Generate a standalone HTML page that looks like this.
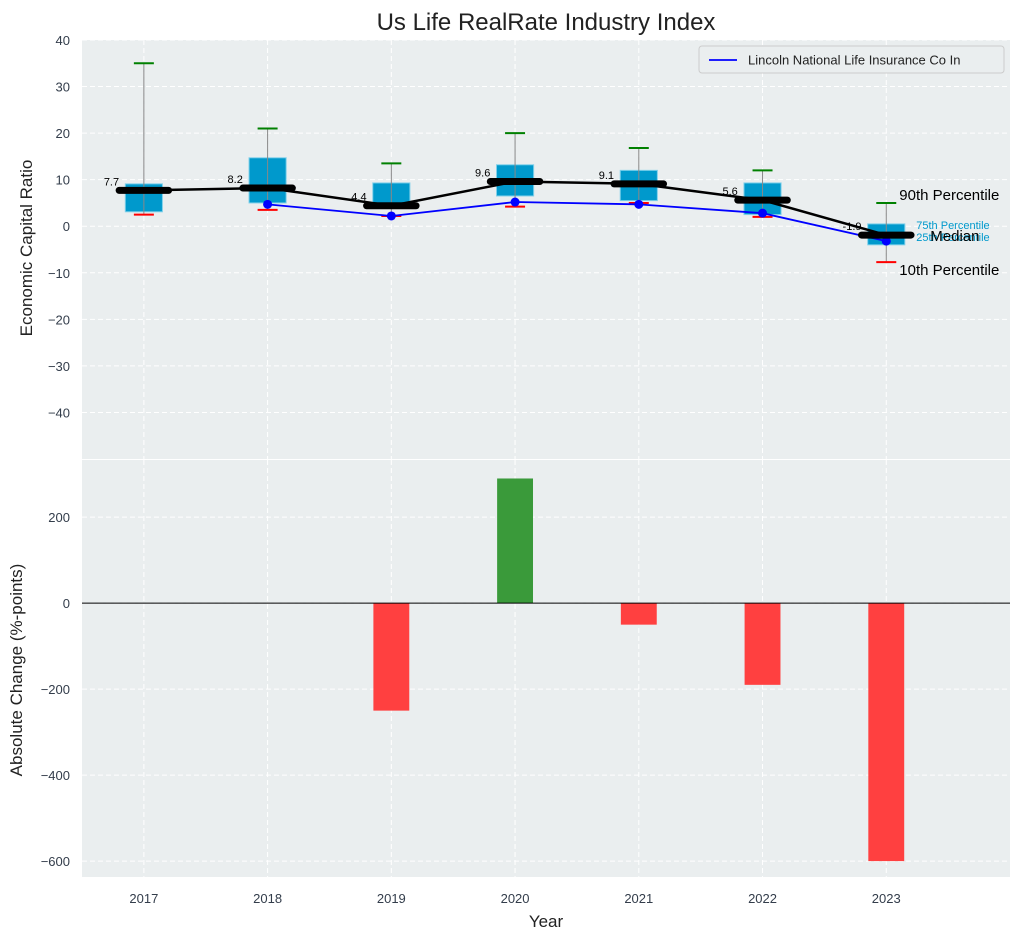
<!DOCTYPE html>
<html><head><meta charset="utf-8"><style>
body{margin:0;background:#fff;font-family:"Liberation Sans","DejaVu Sans",sans-serif}
</style></head><body>
<svg id="c" width="1021" height="940" xmlns="http://www.w3.org/2000/svg" font-family="Liberation Sans, DejaVu Sans, sans-serif"></svg>
<script>
const years=[2017,2018,2019,2020,2021,2022,2023];
const p10=[2.5,3.5,2.2,4.2,5,2,-7.7];
const p25=[3.1,5,4,6.5,5.5,2.5,-4];
const medians=[7.7,8.2,4.4,9.6,9.1,5.6,-1.9];
const p75=[9.1,14.7,9.3,13.2,12,9.3,0.5];
const p90=[35,21,13.5,20,16.8,12,5];
const lincoln=[null,4.7,2.2,5.2,4.7,2.8,-3.2];
const changes=[0,0,-250,290,-50,-190,-600];
const topTicks=[40,30,20,10,0,-10,-20,-30,-40];
const botTicks=[200,0,-200,-400,-600];

const svg=document.getElementById('c');const NS='http://www.w3.org/2000/svg';
function el(t,a,txt){const e=document.createElementNS(NS,t);for(const k in a)e.setAttribute(k,a[k]);if(txt!==undefined)e.textContent=txt;svg.appendChild(e);return e;}
const X0=82,X1=1010;
const x=v=>X0+(v-2016.5)/(2024-2016.5)*(X1-X0);
const T0=40,T1=459; const yT=v=>T0+(40-v)/(40+50)*(T1-T0);
const B0=460,B1=877; const yB=v=>B0+(333-v)/(333+637)*(B1-B0);

let e;
e=el('rect',{x:X0,y:T0,width:X1-X0,height:T1-T0,fill:'#eaeeef'});

e=el('rect',{x:X0,y:B0,width:X1-X0,height:B1-B0,fill:'#eaeeef'});

years.forEach(v=>{
 el('line',{x1:x(v),x2:x(v),y1:T0,y2:T1,stroke:'#fff','stroke-dasharray':'5,3'});
 el('line',{x1:x(v),x2:x(v),y1:B0,y2:B1,stroke:'#fff','stroke-dasharray':'5,3'});
 e=el('text',{x:x(v),y:903,'text-anchor':'middle','font-size':13,fill:'#333d4b'},v);
 
});
topTicks.forEach(v=>{
 el('line',{x1:X0,x2:X1,y1:yT(v),y2:yT(v),stroke:'#fff','stroke-dasharray':'5,3'});
 e=el('text',{x:70,y:yT(v)+5,'text-anchor':'end','font-size':13,fill:'#333d4b'},v<0?'\u2212'+(-v):v);
 
});
botTicks.forEach(v=>{
 el('line',{x1:X0,x2:X1,y1:yB(v),y2:yB(v),stroke:'#fff','stroke-dasharray':'5,3'});
 e=el('text',{x:70,y:yB(v)+5,'text-anchor':'end','font-size':13,fill:'#333d4b'},v<0?'\u2212'+(-v):v);
 
});
const step=x(2018)-x(2017);
years.forEach((yr,i)=>{
 const cx=x(yr),w=0.3*step;
 e=el('rect',{x:cx-w/2,y:yT(p75[i]),width:w,height:yT(p25[i])-yT(p75[i]),fill:'#0099cc',stroke:'#7fd0ea','stroke-width':1});
 
 el('line',{x1:cx,x2:cx,y1:yT(p90[i]),y2:yT(p10[i]),stroke:'#888','stroke-width':1});
 el('line',{x1:cx-10,x2:cx+10,y1:yT(p90[i]),y2:yT(p90[i]),stroke:'green','stroke-width':2});
 el('line',{x1:cx-10,x2:cx+10,y1:yT(p10[i]),y2:yT(p10[i]),stroke:'red','stroke-width':2});
});
e=el('polyline',{points:years.map((yr,i)=>x(yr)+','+yT(medians[i])).join(' '),fill:'none',stroke:'#000','stroke-width':2.5});

const lp=years.map((yr,i)=>lincoln[i]==null?null:x(yr)+','+yT(lincoln[i])).filter(p=>p);
e=el('polyline',{points:lp.join(' '),fill:'none',stroke:'#0000ff','stroke-width':1.8});

years.forEach((yr,i)=>{
 if(lincoln[i]==null)return;
 e=el('circle',{cx:x(yr),cy:yT(lincoln[i]),r:4.5,fill:'#0000ff'});
 
});
years.forEach((yr,i)=>{
 const cx=x(yr),w=0.4*step;
 e=el('line',{x1:cx-w/2,x2:cx+w/2,y1:yT(medians[i]),y2:yT(medians[i]),stroke:'#000','stroke-width':7,'stroke-linecap':'round'});
 
 e=el('text',{x:cx-0.2*step,y:yT(medians[i])-5,'text-anchor':'end','font-size':11,fill:'#000'},medians[i].toFixed(1));
 
});
const lx=x(2023);
e=el('text',{x:lx+13,y:yT(p90[6])-3,'font-size':15,fill:'#000'},'90th Percentile');
e=el('text',{x:lx+13,y:yT(p10[6])+13,'font-size':15,fill:'#000'},'10th Percentile');
e=el('text',{x:lx+30,y:yT(p75[6])+5,'font-size':11,fill:'#0099cc'},'75th Percentile');
e=el('text',{x:lx+30,y:yT(p25[6])-4,'font-size':11,fill:'#0099cc'},'25th Percentile');
e=el('text',{x:lx+44,y:yT(medians[6])+6,'font-size':15,fill:'#000'},'Median');
e=el('rect',{x:699,y:46,width:305,height:27,rx:3,fill:'#eaeeef',stroke:'#ccc'});
el('line',{x1:709,x2:737,y1:60,y2:60,stroke:'#0000ff','stroke-width':1.8});
e=el('text',{x:748,y:64.5,'font-size':13,fill:'#222'},'Lincoln National Life Insurance Co In');
years.forEach((yr,i)=>{
 const v=changes[i];if(!v)return;const w=0.29*step;
 e=el('rect',{x:x(yr)-w/2,y:Math.min(yB(0),yB(v)),width:w,height:Math.abs(yB(v)-yB(0)),fill:v>0?'#3a9a3a':'#ff4040'});
 
});
el('line',{x1:X0,x2:X1,y1:yB(0),y2:yB(0),stroke:'#000','stroke-width':1});
e=el('text',{x:546,y:30,'text-anchor':'middle','font-size':24,fill:'#222'},'Us Life RealRate Industry Index');
e=el('text',{x:0,y:0,'text-anchor':'middle','font-size':17,fill:'#222',transform:'translate(32,248) rotate(-90)'},'Economic Capital Ratio');
e=el('text',{x:0,y:0,'text-anchor':'middle','font-size':17,fill:'#222',transform:'translate(22,670) rotate(-90)'},'Absolute Change (%-points)');
e=el('text',{x:546,y:927,'text-anchor':'middle','font-size':17,fill:'#222'},'Year');
</script>
</body></html>
